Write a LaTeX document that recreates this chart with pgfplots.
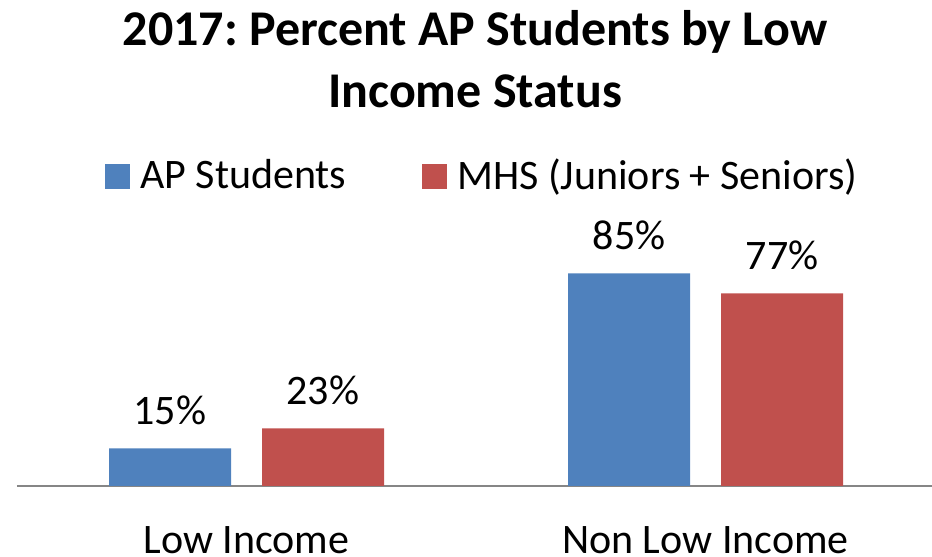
\documentclass[border=0pt]{standalone}
\usepackage{fontspec}
\setmainfont{Carlito}
\usepackage{pgfplots}
\pgfplotsset{compat=1.18}
\definecolor{apblue}{HTML}{4F81BD}
\definecolor{mhsred}{HTML}{C0504D}
\definecolor{axisgray}{HTML}{868686}
\begin{document}
\frenchspacing
\begin{tikzpicture}[x=1pt,y=1pt]
\useasboundingbox (0,0) rectangle (932,557);
\begin{axis}[
  at={(17pt,71pt)}, anchor=south west,
  scale only axis, width=918pt, height=250pt,
  xmin=-0.5, xmax=1.5, ymin=0, ymax=100,
  axis x line*=bottom, axis y line=none,
  x axis line style={draw=axisgray, line width=1.5pt, -},
  xtick={0,1}, xticklabels={Low Income, Non Low Income},
  major tick length=0pt,
  xticklabel style={font=\fontsize{42}{50}\selectfont, anchor=base, yshift=-67pt},
  ytick=\empty,
  ybar, bar width=122pt,
  /pgf/number format/assume math mode=true,
  nodes near coords={\pgfmathprintnumber{\pgfplotspointmeta}\%},
  every node near coord/.append style={font=\fontsize{42}{50}\selectfont, anchor=base, yshift=24pt, inner sep=0pt},
  title={2017: Percent AP Students by Low\\Income Status},
  title style={font=\bfseries\fontsize{50}{62}\selectfont, align=center, at={(axis description cs:0.4989,1)}, anchor=north, yshift=220pt, inner sep=0pt},
  legend style={draw=none, fill=none, legend columns=2, font=\fontsize{42}{50}\selectfont,
    at={(axis description cs:0.0926,1.172)}, anchor=south west,
    nodes={inner sep=0pt},
    /tikz/every odd column/.append style={column sep=10pt},
    /tikz/every even column/.append style={column sep=76pt}},
  clip=false,
]
\addplot[fill=apblue, draw=none, bar shift=-76.5pt, legend image code/.code={\fill[apblue] (0pt,-14pt) rectangle (25pt,11pt);}] coordinates {(0,15) (1,85)};
\addplot[fill=mhsred, draw=none, bar shift=76.5pt, legend image code/.code={\fill[mhsred] (0pt,-14pt) rectangle (25pt,11pt);}] coordinates {(0,23) (1,77)};
\legend{AP Students, MHS (Juniors + Seniors)}
\end{axis}
\end{tikzpicture}
\end{document}
